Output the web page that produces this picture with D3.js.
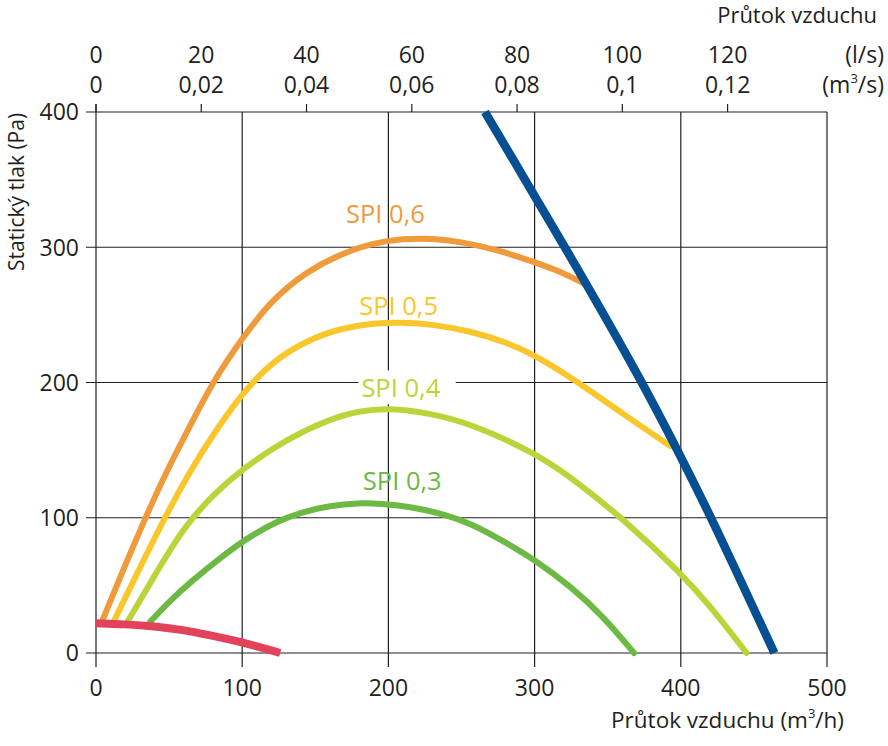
<!DOCTYPE html>
<html><head><meta charset="utf-8">
<script src="https://cdn.jsdelivr.net/npm/d3@7"></script>
<style>
body{margin:0;background:#fff;}
text{font-family:"Open Sans",sans-serif;fill:#231f20;}
</style></head>
<body><svg id="c" width="888" height="746"></svg>
<script>
// ---- data ----
const xTicks = [0,100,200,300,400,500];
const yTicks = [0,100,200,300,400];
const lsTicks = [0,20,40,60,80,100,120];
const spiLabels = ["SPI 0,6","SPI 0,5","SPI 0,4","SPI 0,3"];
const spi06 = [[4,23],[18,60],[33,98],[48,134],[64,167],[79,199],[100,233],[121,262],[144,282],[167,295],[189,303],[210,306.5],[230,306.5],[250,304],[275,298],[300,289],[320,281],[334,273]];
const spi05 = [[12,23],[30,63],[47,100],[64,134],[81,163],[100,192],[121,216],[144,231],[167,240],[190,244],[210,244.5],[230,243],[256,238],[280,230],[300,220.5],[329,201],[360,177],[393,153]];
const spi04 = [[22,24],[41,59],[60,93],[80,117],[100,136],[130,158],[160,173],[180,179],[200,181],[225,178],[256,170],[300,148],[325,130],[363,97],[400,59],[420,35],[445,0]];
const spi03 = [[37,23],[50,38],[64,52],[88,73],[105,86],[123,97],[140,104],[160,109],[180,111],[194,110.5],[217,108],[240,102],[256,96],[280,82],[300,69],[325,49],[347,27],[368,0]];
const fanLimit = [[0,22],[20,21.3],[40,19.8],[60,17],[76,13.5],[100,8],[126,0]];
const maxCurve = [[266,400],[321,300],[374,200],[400,145],[421,100],[464,0]];
const labelPos = [[198,318],[207,250],[208.5,189],[209.5,120.5]]; // label anchor in data units

const colors = {o:"#ef9a3b", y:"#f9c62b", l:"#bad53a", g:"#6cb944", r:"#e2425a", b:"#064f92"};

const svg = d3.select("#c");
const x = d3.scaleLinear().domain([0,500]).range([96,827]);
const y = d3.scaleLinear().domain([0,400]).range([653,112]);
const xTop = d3.scaleLinear().domain([0,500/3.6]).range([96,827]);
const grid = "#231f20";

// gridlines
const g = svg.append("g");
g.selectAll("line.h").data(yTicks).join("line")
  .attr("x1",86).attr("x2",x(500)).attr("y1",d=>y(d)).attr("y2",d=>y(d))
  .attr("stroke",grid).attr("stroke-width",1.2);
g.selectAll("line.v").data(xTicks).join("line")
  .attr("x1",d=>x(d)).attr("x2",d=>x(d)).attr("y1",d=>d===0?104:y(400)).attr("y2",667)
  .attr("stroke",grid).attr("stroke-width",1.2);
// top ticks
g.selectAll("line.t").data(lsTicks).join("line")
  .attr("x1",d=>xTop(d)).attr("x2",d=>xTop(d)).attr("y1",104).attr("y2",y(400))
  .attr("stroke",grid).attr("stroke-width",1.2);

// tick labels
const fs = 23;
svg.selectAll("text.yl").data(yTicks).join("text")
  .attr("x",79).attr("y",d=>y(d)).attr("dy","0.36em").attr("text-anchor","end")
  .attr("font-size",fs).text(d=>d);
svg.selectAll("text.xl").data(xTicks).join("text")
  .attr("x",d=>x(d)).attr("y",696).attr("text-anchor","middle")
  .attr("font-size",fs).text(d=>d);
svg.selectAll("text.ls").data(lsTicks).join("text")
  .attr("x",d=>xTop(d)).attr("y",63).attr("text-anchor","middle")
  .attr("font-size",fs).text(d=>d);
svg.selectAll("text.ms").data(lsTicks).join("text")
  .attr("x",d=>xTop(d)).attr("y",93).attr("text-anchor","middle")
  .attr("font-size",fs).text(d=>String(d/1000).replace(".",","));
svg.append("text").attr("x",884).attr("y",63).attr("text-anchor","end").attr("font-size",fs).text("(l/s)");
const ms = svg.append("text").attr("x",884).attr("y",93).attr("text-anchor","end").attr("font-size",fs);
ms.append("tspan").text("(m");
ms.append("tspan").attr("font-size",13).attr("dy",-10).text("3");
ms.append("tspan").attr("dy",10).text("/s)");

// titles
svg.append("text").attr("x",877).attr("y",23).attr("text-anchor","end").attr("font-size",22).text("Průtok vzduchu");
const bt = svg.append("text").attr("x",844).attr("y",728).attr("text-anchor","end").attr("font-size",22.5);
bt.append("tspan").text("Průtok vzduchu (m");
bt.append("tspan").attr("font-size",13).attr("dy",-10).text("3");
bt.append("tspan").attr("dy",10).text("/h)");
svg.append("text").attr("transform","translate(24,192) rotate(-90)").attr("text-anchor","middle")
  .attr("font-size",21).text("Statický tlak (Pa)");

// curves
const line = d3.line().x(d=>x(d[0])).y(d=>y(d[1])).curve(d3.curveBasis);
const series = [[spi06,colors.o],[spi05,colors.y],[spi04,colors.l],[spi03,colors.g]];
svg.selectAll("path.spi").data(series).join("path")
  .attr("d",d=>line(d[0])).attr("fill","none").attr("stroke",d=>d[1])
  .attr("stroke-width",6).attr("stroke-linecap","round");
svg.append("path").attr("d",line(fanLimit)).attr("fill","none").attr("stroke",colors.r).attr("stroke-width",8);
svg.append("path").attr("d",line(maxCurve)).attr("fill","none").attr("stroke",colors.b).attr("stroke-width",8.5);

// SPI labels
const lc = [colors.o,colors.y,colors.l,colors.g];
spiLabels.forEach((t,i)=>{
  const tx = svg.append("text").attr("x",x(labelPos[i][0])).attr("y",y(labelPos[i][1]))
    .attr("text-anchor","middle").attr("font-size",25.5).style("fill",lc[i]).text(t);
  if(i===2){
    const bb = tx.node().getBBox();
    svg.insert("rect","text").attr("x",bb.x-3).attr("y",bb.y).attr("width",bb.width+18).attr("height",bb.height).attr("fill","#fff");
    tx.raise();
  }
});
</script></body></html>
